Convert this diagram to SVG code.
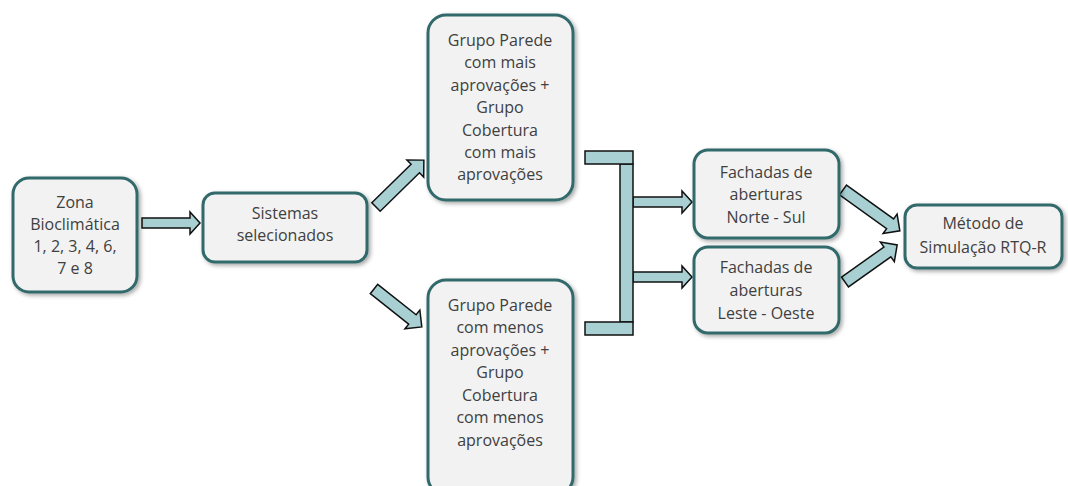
<svg xmlns="http://www.w3.org/2000/svg" width="1068" height="486" viewBox="0 0 1068 486">
<defs>
<filter id="sh" x="-10%" y="-10%" width="130%" height="130%">
<feDropShadow dx="2" dy="2" stdDeviation="2" flood-color="#000" flood-opacity="0.35"/>
</filter>
<style>
.box{fill:#f2f2f2;stroke:#31696b;stroke-width:3;filter:url(#sh)}
.t{font-family:"Open Sans","Liberation Sans",sans-serif;font-size:16px;fill:#404040;text-anchor:middle}
.ar{fill:#a8d0d3;stroke:#111;stroke-width:1.5;stroke-linejoin:miter}
</style>
</defs>
<rect width="1068" height="486" fill="#fff"/>
<g id="connectors">
<polygon class="ar" transform="translate(142,223)" points="0,-5 48,-5 48,-11 58,0 48,11 48,5 0,5"/>
<polygon class="ar" transform="translate(376,207) rotate(-44.4)" points="0,-6 55,-6 55,-12 67,0 55,12 55,6 0,6"/>
<polygon class="ar" transform="translate(374,289) rotate(38.4)" points="0,-6 49,-6 49,-12 61,0 49,12 49,6 0,6"/>
<polygon class="ar" transform="translate(633,202)" points="0,-5 49,-5 49,-11 59,0 49,11 49,5 0,5"/>
<polygon class="ar" transform="translate(633,277)" points="0,-5 49,-5 49,-11 59,0 49,11 49,5 0,5"/>
<polygon class="ar" transform="translate(843,190) rotate(35.7)" points="0,-6 58,-6 58,-12 70,0 58,12 58,6 0,6"/>
<polygon class="ar" transform="translate(845,282) rotate(-35.4)" points="0,-6 52,-6 52,-12 64,0 52,12 52,6 0,6"/>
<rect class="ar" x="620" y="164" width="13" height="158"/>
<rect class="ar" x="585" y="151" width="48" height="13"/>
<rect class="ar" x="585" y="322" width="48" height="13"/>
</g>
<g id="zona">
<rect class="box" x="13" y="178" width="124" height="114" rx="16"/>
<text class="t" x="75" y="208">Zona</text>
<text class="t" x="75" y="230">Bioclimática</text>
<text class="t" x="75" y="252">1, 2, 3, 4, 6,</text>
<text class="t" x="75" y="274">7 e 8</text>
</g>
<g id="sistemas">
<rect class="box" x="203" y="193" width="164" height="69" rx="12"/>
<text class="t" x="285" y="219">Sistemas</text>
<text class="t" x="285" y="241">selecionados</text>
</g>
<g id="grupo-mais">
<rect class="box" x="428" y="15" width="145" height="185" rx="18"/>
<text class="t" x="500" y="46">Grupo Parede</text>
<text class="t" x="500" y="68">com mais</text>
<text class="t" x="500" y="91">aprovações +</text>
<text class="t" x="500" y="113">Grupo</text>
<text class="t" x="500" y="136">Cobertura</text>
<text class="t" x="500" y="158">com mais</text>
<text class="t" x="500" y="180">aprovações</text>
</g>
<g id="grupo-menos">
<rect class="box" x="428" y="280" width="145" height="215" rx="18"/>
<text class="t" x="500" y="311">Grupo Parede</text>
<text class="t" x="500" y="333">com menos</text>
<text class="t" x="500" y="356">aprovações +</text>
<text class="t" x="500" y="378">Grupo</text>
<text class="t" x="500" y="401">Cobertura</text>
<text class="t" x="500" y="423">com menos</text>
<text class="t" x="500" y="446">aprovações</text>
</g>
<g id="fachadas-ns">
<rect class="box" x="694" y="150" width="145" height="88" rx="14"/>
<text class="t" x="766" y="178">Fachadas de</text>
<text class="t" x="766" y="200">aberturas</text>
<text class="t" x="766" y="223">Norte - Sul</text>
</g>
<g id="fachadas-lo">
<rect class="box" x="694" y="247" width="145" height="86" rx="14"/>
<text class="t" x="766" y="273">Fachadas de</text>
<text class="t" x="766" y="296">aberturas</text>
<text class="t" x="766" y="319">Leste - Oeste</text>
</g>
<g id="metodo">
<rect class="box" x="905" y="205" width="157" height="63" rx="12"/>
<text class="t" x="983" y="229">Método de</text>
<text class="t" x="983" y="253">Simulação RTQ-R</text>
</g>
</svg>
